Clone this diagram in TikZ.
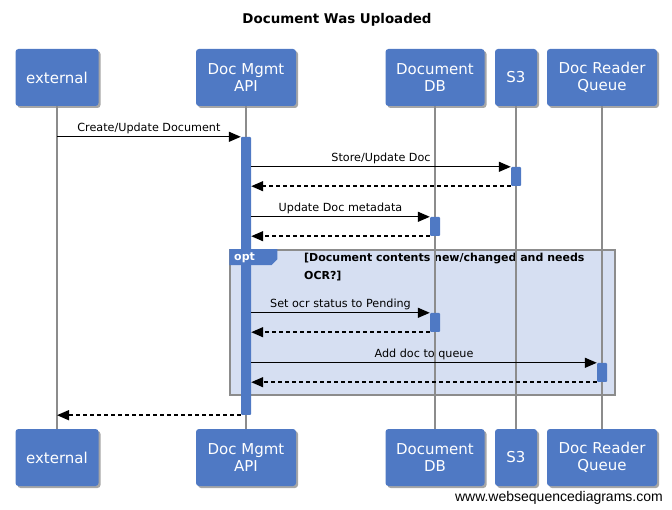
\documentclass[tikz,border=0pt]{standalone}
\usepackage{fontspec}
\setmainfont{DejaVu Sans}
\newfontfamily\wsdfont{Liberation Sans}
\usetikzlibrary{arrows.meta,shadows}
\definecolor{wsdblue}{RGB}{79,121,196}
\definecolor{optfill}{RGB}{214,223,242}
\definecolor{lifegray}{RGB}{140,140,140}

\begin{document}
\begin{tikzpicture}
[
    x=1pt, y=-1pt,
    actor/.style={fill=wsdblue, rounded corners=3pt, text=white, align=center,
        font=\fontsize{15}{17}\selectfont, minimum height=57pt, inner sep=0pt,
        drop shadow={shadow xshift=2pt, shadow yshift=-2pt, opacity=.35, fill=black}},
    life/.style={draw=lifegray, line width=1.8pt},
    act/.style={fill=wsdblue, minimum width=10pt, inner sep=0pt, rounded corners=1pt},
    msg/.style={line width=1.4pt, -{Triangle[length=12pt,width=10pt]}},
    ret/.style={msg, dash pattern=on 4pt off 3pt},
    lbl/.style={font=\fontsize{11.2}{13}\selectfont, above, inner sep=2pt},
]
\useasboundingbox (0,0) rectangle (672,510);

\node [font=\bfseries\fontsize{13.4}{15}\selectfont] (title) at (337,20) {Document Was Uploaded};

% opt frame
\node [fill=optfill, draw=lifegray, line width=1.5pt, minimum width=385pt, minimum height=145pt] (opt) at (422.5,322.5) {};
\node [anchor=north west, align=left, inner sep=0pt, font=\bfseries\fontsize{11}{18}\selectfont] (cond) at (304,253)
    {[Document contents new/changed and needs\\OCR?]};

% participants
\node [actor, minimum width=83pt] (ext) at (57,77.5) {external};
\node [actor, minimum width=100pt] (api) at (246,77.5) {Doc Mgmt\\API};
\node [actor, minimum width=99pt] (db) at (435,77.5) {Document\\DB};
\node [actor, minimum width=42pt] (s3) at (516,77.5) {S3};
\node [actor, minimum width=110pt] (queue) at (602,77.5) {Doc Reader\\Queue};
\node [actor, minimum width=83pt] (ext2) at (57,457.5) {external};
\node [actor, minimum width=100pt] (api2) at (246,457.5) {Doc Mgmt\\API};
\node [actor, minimum width=99pt] (db2) at (435,457.5) {Document\\DB};
\node [actor, minimum width=42pt] (s32) at (516,457.5) {S3};
\node [actor, minimum width=110pt] (queue2) at (602,457.5) {Doc Reader\\Queue};

% lifelines
\draw [life] (ext.south) -- (ext2.north);
\draw [life] (api.south) -- (api2.north);
\draw [life] (db.south) -- (db2.north);
\draw [life] (s3.south) -- (s32.north);
\draw [life] (queue.south) -- (queue2.north);

% activations
\node [act, minimum height=278pt] (a1) at (246,276) {};
\node [act, minimum height=19pt] (s3a) at (516,176.5) {};
\node [act, minimum height=19pt] (dba) at (435,226.5) {};
\node [act, minimum height=19pt] (dbb) at (435,322.5) {};
\node [act, minimum height=19pt] (qa) at (602,372.5) {};

% opt tab on top of the bar
\draw [fill=wsdblue, draw=none] (opt.north west) -- ++(48,0) -- ++(0,10) -- ++(-6,6) -- ++(-42,0) -- cycle;
\node [anchor=west, text=white, font=\bfseries\fontsize{11}{12}\selectfont, inner sep=0pt] (optlbl) at (234,258) {opt};

% messages
\draw [msg] (ext.south |- a1.north) -- (a1.north west) node [lbl, midway] {Create/Update Document};
\draw [msg] (a1.east |- s3a.north) -- (s3a.north west) node [lbl, midway] {Store/Update Doc};
\draw [ret] (s3a.south west) -- (a1.east |- s3a.south);
\draw [msg] (a1.east |- dba.north) -- (dba.north west) node [lbl, midway] {Update Doc metadata};
\draw [ret] (dba.south west) -- (a1.east |- dba.south);
\draw [msg] (a1.east |- dbb.north) -- (dbb.north west) node [lbl, midway] {Set ocr status to Pending};
\draw [ret] (dbb.south west) -- (a1.east |- dbb.south);
\draw [msg] (a1.east |- qa.north) -- (qa.north west) node [lbl, midway] {Add doc to queue};
\draw [ret] (qa.south west) -- (a1.east |- qa.south);
\draw [ret] (a1.south west) -- (ext.south |- a1.south);

\node [anchor=base east, inner sep=0pt, font=\wsdfont\fontsize{14}{16}\selectfont] (wsd) at (663,501) {www.websequencediagrams.com};
\end{tikzpicture}
\end{document}
